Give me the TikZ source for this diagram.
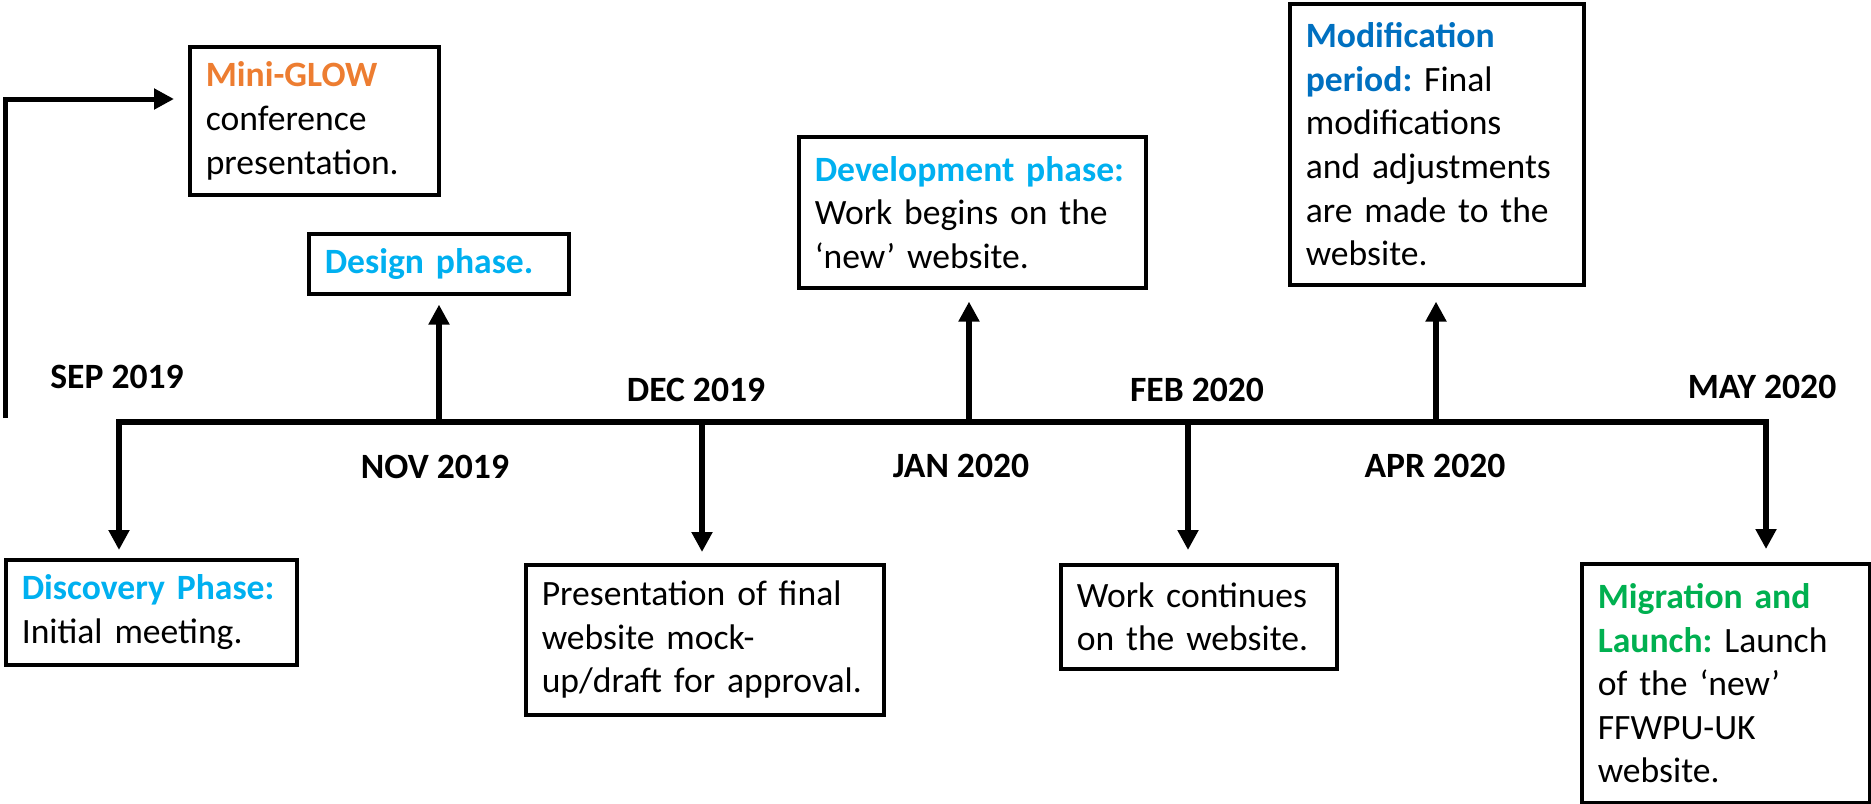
\documentclass[tikz,border=0pt]{standalone}
\usepackage{fontspec}
\setmainfont{Carlito}
\usetikzlibrary{arrows.meta}
\definecolor{cOrange}{RGB}{237,125,49}
\definecolor{cCyan}{RGB}{0,176,240}
\definecolor{cBlue}{RGB}{0,112,192}
\definecolor{cGreen}{RGB}{0,176,80}
\frenchspacing
\begin{document}
\frenchspacing
\begin{tikzpicture}[x=0.5pt,y=-0.5pt,
  every node/.style={font=\fontsize{17.8}{21.8}\selectfont, inner sep=0pt},
  box/.style={draw, line width=1.8pt, anchor=north west, inner xsep=8pt, inner ysep=0pt, align=left},
  datelbl/.style={font=\fontsize{17.8}{21.8}\selectfont\bfseries},
  tip/.style={-{Triangle[length=10pt,width=10pt]}},
  conn/.style={line width=2.75pt, tip},
  mainline/.style={line width=3pt, line join=miter,
     {Triangle[length=10pt,width=10pt]}-{Triangle[length=10pt,width=10pt]}}
]
\fill[white] (0,0) rectangle (1871,803);
\useasboundingbox (0,0) rectangle (1871,803);

% boxes
\node[box, text width=108.5pt, minimum height=74pt] (mini) at (188,45)
  {{\color{cOrange}\bfseries Mini-GLOW}\\conference\\presentation.};
\node[box, text width=114pt, minimum height=30pt] (design) at (307,232)
  {{\color{cCyan}\bfseries Design phase.}};
\node[box, text width=157.5pt, minimum height=75.5pt] (dev) at (797,135)
  {\mbox{\color{cCyan}\bfseries Development phase:}\\Work begins on the\\‘new’ website.};
\node[box, text width=131pt, minimum height=140.5pt] (mod) at (1288,2)
  {{\color{cBlue}\bfseries Modification}\\{\color{cBlue}\bfseries period:} Final\\modifications\\\mbox{and adjustments}\\are made to the\\website.};
\node[box, text width=129.5pt, minimum height=52.5pt] (disc) at (4,558)
  {\mbox{\color{cCyan}\bfseries Discovery Phase:}\\Initial meeting.};
\node[box, text width=163pt, minimum height=75pt] (pres) at (524,563)
  {\mbox{Presentation of final}\\website mock-\\\mbox{up/draft for approval.}};
\node[box, text width=122pt, minimum height=52pt] (work) at (1059,563)
  {\mbox{Work continues}\\\mbox{on the website.}};
\node[box, text width=128pt, minimum height=119.5pt] (migr) at (1580,562)
  {\mbox{\color{cGreen}\bfseries Migration and}\\\mbox{{\color{cGreen}\bfseries Launch:} Launch}\\of the ‘new’\\FFWPU-UK\\website.};

% date labels
\node[datelbl] (sep) at (117,377) {SEP 2019};
\node[datelbl] (nov) at (435,467) {NOV 2019};
\node[datelbl] (dec) at (696,390) {DEC 2019};
\node[datelbl] (jan) at (961,466) {JAN 2020};
\node[datelbl] (feb) at (1197,390) {FEB 2020};
\node[datelbl] (apr) at (1435,466) {APR 2020};
\node[datelbl] (may) at (1762,387) {MAY 2020};

% timeline coordinates
\coordinate (cSep) at (119,422);
\coordinate (cNov) at (439,422);
\coordinate (cDec) at (702,422);
\coordinate (cJan) at (969,422);
\coordinate (cFeb) at (1188,422);
\coordinate (cApr) at (1436,422);
\coordinate (cMay) at (1766,422);
\coordinate (s0) at (5,418);
\coordinate (s1) at (5,99);

% main timeline with end arrows
\draw[mainline, shorten <=4pt, shorten >=6.5pt]
  (cSep |- disc.north) -- (cSep) -- (cMay) -- (cMay |- migr.north);

% branch arrows
\draw[conn, shorten >=4.5pt] (cNov) -- (cNov |- design.south);
\draw[conn, shorten >=5.5pt] (cDec) -- (cDec |- pres.north);
\draw[conn, shorten >=6pt] (cJan) -- (cJan |- dev.south);
\draw[conn, shorten >=6.5pt] (cFeb) -- (cFeb |- work.north);
\draw[conn, shorten >=7.5pt] (cApr) -- (cApr |- mod.south);

% top-left arrow into Mini-GLOW
\draw[line width=2.5pt, line join=miter, tip, shorten >=7pt] (s0) -- (s1) -- (s1 -| mini.west);
\end{tikzpicture}
\end{document}
